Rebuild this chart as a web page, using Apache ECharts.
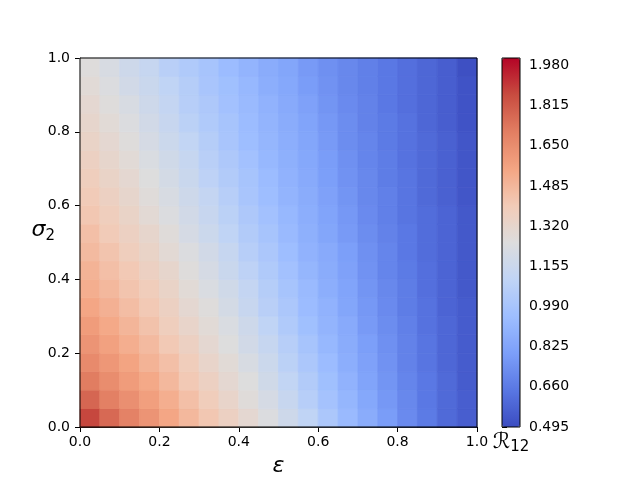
<!DOCTYPE html>
<html>
<head>
<meta charset="utf-8">
<script src="https://cdn.jsdelivr.net/npm/echarts@6/dist/echarts.min.js"></script>
<style>html,body{margin:0;padding:0;background:#fff}#c{width:640px;height:480px}</style>
</head>
<body>
<div id="c"></div>
<script>
// sample points (cell centres) along epsilon and sigma_2
const epsilon = [0.025,0.075,0.125,0.175,0.225,0.275,0.325,0.375,0.425,0.475,0.525,0.575,0.625,0.675,0.725,0.775,0.825,0.875,0.925,0.975];
const sigma2  = [0.025,0.075,0.125,0.175,0.225,0.275,0.325,0.375,0.425,0.475,0.525,0.575,0.625,0.675,0.725,0.775,0.825,0.875,0.925,0.975];
// R12 values: one row per sigma2 value (bottom to top), one entry per epsilon value
const R12 = [
 [1.87,1.77,1.69,1.62,1.55,1.48,1.42,1.36,1.30,1.24,1.17,1.10,1.01,0.93,0.86,0.79,0.72,0.66,0.60,0.56],
 [1.78,1.70,1.64,1.58,1.52,1.45,1.39,1.33,1.27,1.21,1.14,1.06,0.98,0.91,0.84,0.77,0.71,0.65,0.60,0.56],
 [1.71,1.65,1.59,1.54,1.48,1.41,1.36,1.30,1.25,1.18,1.11,1.04,0.96,0.89,0.82,0.76,0.70,0.65,0.60,0.55],
 [1.66,1.61,1.56,1.50,1.45,1.39,1.33,1.28,1.22,1.16,1.08,1.01,0.94,0.87,0.81,0.75,0.69,0.64,0.59,0.55],
 [1.62,1.57,1.52,1.47,1.41,1.36,1.30,1.25,1.19,1.13,1.06,0.99,0.92,0.86,0.80,0.74,0.69,0.64,0.59,0.55],
 [1.59,1.54,1.49,1.44,1.38,1.33,1.28,1.23,1.17,1.10,1.03,0.96,0.90,0.85,0.78,0.73,0.68,0.63,0.59,0.55],
 [1.55,1.51,1.46,1.41,1.36,1.30,1.26,1.20,1.14,1.07,1.01,0.94,0.89,0.83,0.77,0.72,0.67,0.63,0.58,0.55],
 [1.52,1.48,1.43,1.39,1.34,1.28,1.23,1.18,1.12,1.05,0.99,0.93,0.87,0.82,0.76,0.71,0.67,0.62,0.58,0.54],
 [1.50,1.45,1.41,1.36,1.32,1.26,1.21,1.15,1.09,1.03,0.97,0.91,0.86,0.81,0.75,0.70,0.66,0.62,0.58,0.54],
 [1.47,1.43,1.38,1.34,1.29,1.24,1.19,1.13,1.06,1.01,0.95,0.89,0.85,0.80,0.74,0.70,0.65,0.61,0.58,0.54],
 [1.45,1.40,1.36,1.32,1.27,1.21,1.16,1.10,1.04,0.99,0.93,0.88,0.83,0.78,0.73,0.69,0.65,0.61,0.58,0.54],
 [1.42,1.38,1.34,1.29,1.24,1.19,1.14,1.08,1.02,0.97,0.92,0.87,0.82,0.77,0.72,0.68,0.64,0.61,0.58,0.54],
 [1.40,1.36,1.32,1.27,1.22,1.17,1.12,1.06,1.00,0.95,0.90,0.86,0.81,0.76,0.71,0.68,0.64,0.60,0.57,0.53],
 [1.38,1.34,1.30,1.25,1.20,1.15,1.09,1.04,0.99,0.94,0.89,0.85,0.80,0.75,0.71,0.67,0.64,0.60,0.57,0.53],
 [1.36,1.32,1.28,1.23,1.18,1.13,1.07,1.02,0.97,0.92,0.88,0.84,0.79,0.74,0.70,0.67,0.63,0.60,0.57,0.53],
 [1.34,1.30,1.26,1.21,1.16,1.11,1.05,1.00,0.95,0.91,0.87,0.83,0.78,0.73,0.70,0.66,0.63,0.60,0.57,0.53],
 [1.32,1.28,1.24,1.19,1.14,1.08,1.03,0.99,0.94,0.90,0.86,0.82,0.77,0.73,0.69,0.66,0.63,0.59,0.56,0.52],
 [1.30,1.26,1.22,1.17,1.12,1.06,1.02,0.97,0.93,0.89,0.85,0.81,0.76,0.72,0.69,0.65,0.62,0.59,0.56,0.52],
 [1.28,1.24,1.19,1.15,1.10,1.05,1.00,0.96,0.92,0.87,0.84,0.79,0.75,0.71,0.68,0.65,0.62,0.59,0.56,0.52],
 [1.26,1.22,1.17,1.13,1.07,1.03,0.99,0.94,0.90,0.86,0.83,0.78,0.74,0.71,0.68,0.65,0.62,0.59,0.56,0.51]
];
// colour bar: value range and labelled ticks
const colorbarMin = 0.495;
const colorbarMax = 2.01;
const colorbarTicks = [0.495,0.660,0.825,0.990,1.155,1.320,1.485,1.650,1.815,1.980];
const coolwarm = ['#3b4cc0','#5977e3','#7c9ff9','#9ebeff','#c0d4f5','#dddddd','#f2cbb7','#f4a583','#e27e62','#c84c40','#b40426'];

const cellData = [];
sigma2.forEach((s, j) => epsilon.forEach((e, i) => cellData.push([e, s, R12[j][i]])));
const halfW = (epsilon[1] - epsilon[0]) / 2;
const halfH = (sigma2[1] - sigma2[0]) / 2;

const font = 'DejaVu Sans';
const tickLabel = {color:'#000', fontSize:14, fontFamily:font};

const chart = echarts.init(document.getElementById('c'), null, {renderer:'canvas'});
chart.setOption({
  animation: false,
  backgroundColor: '#fff',
  grid: [
    {left:80, top:58, width:397, height:369, containLabel:false, outerBoundsMode:'none',
     show:true, borderColor:'#000', borderWidth:1, backgroundColor:'transparent', z:10},
    {left:502, top:58, width:18, height:369, containLabel:false, outerBoundsMode:'none',
     show:true, borderColor:'#000', borderWidth:1, backgroundColor:'transparent', z:10}
  ],
  xAxis: [
    {gridIndex:0, type:'value', min:0, max:1, interval:0.2,
     axisLine:{show:true, lineStyle:{color:'#000'}}, axisTick:{length:5, lineStyle:{color:'#000'}},
     axisLabel:Object.assign({margin:8, formatter:v=>v.toFixed(1)}, tickLabel), splitLine:{show:false},
     name:'ε', nameLocation:'middle', nameGap:28, nameMoveOverlap:false,
     nameTextStyle:{fontSize:22, fontStyle:'italic', fontFamily:font, color:'#000'}},
    {gridIndex:1, type:'value', min:0, max:1, axisLine:{show:false}, axisTick:{show:false}, axisLabel:{show:false}, splitLine:{show:false},
     name:'{r|ℛ}{s|12}', nameLocation:'middle', nameGap:6, nameMoveOverlap:false,
     nameTextStyle:{rich:{
       r:{fontSize:22, lineHeight:22, fontFamily:font, color:'#000', padding:[0,0,4,0]},
       s:{fontSize:15, lineHeight:15, fontFamily:font, color:'#000', verticalAlign:'bottom'}}}}
  ],
  yAxis: [
    {gridIndex:0, type:'value', min:0, max:1, interval:0.2,
     axisLine:{show:true, lineStyle:{color:'#000'}}, axisTick:{length:5, lineStyle:{color:'#000'}},
     axisLabel:Object.assign({margin:10, padding:[2,0,0,0], formatter:v=>v.toFixed(1)}, tickLabel), splitLine:{show:false},
     name:'{i|σ}{s|2}', nameLocation:'middle', nameGap:25, nameRotate:0, nameMoveOverlap:false,
     nameTextStyle:{padding:[0,0,20,0], rich:{
       i:{fontSize:22, lineHeight:22, fontStyle:'italic', fontFamily:font, color:'#000', padding:[0,0,5,0]},
       s:{fontSize:15, lineHeight:15, fontFamily:font, color:'#000', verticalAlign:'bottom'}}}},
    {gridIndex:1, type:'value', position:'right', min:colorbarMin, max:colorbarMax,
     axisLine:{show:false},
     axisTick:{length:5, lineStyle:{color:'#000'}, customValues:colorbarTicks},
     axisLabel:Object.assign({margin:9, padding:[2,0,0,0], customValues:colorbarTicks, formatter:v=>v.toFixed(3)}, tickLabel),
     splitLine:{show:false}}
  ],
  visualMap: {
    type:'continuous', min:colorbarMin, max:colorbarMax, dimension:2, seriesIndex:0,
    calculable:false, orient:'vertical', left:502, top:58, itemWidth:18, itemHeight:369,
    padding:0, text:null, showLabel:false, hoverLink:false,
    inRange:{color:coolwarm}
  },
  series: [{
    type:'custom', coordinateSystem:'cartesian2d', xAxisIndex:0, yAxisIndex:0, silent:true,
    encode:{x:0, y:1},
    data: cellData,
    renderItem: function (params, api) {
      const x = api.value(0), y = api.value(1);
      const p0 = api.coord([x - halfW, y + halfH]);
      const p1 = api.coord([x + halfW, y - halfH]);
      const c = api.visual('color');
      return {type:'rect', shape:{x:p0[0], y:p0[1], width:p1[0]-p0[0], height:p1[1]-p0[1]},
              style:{fill:c, stroke:c, lineWidth:0.8}};
    }
  }]
});
</script>
</body>
</html>
